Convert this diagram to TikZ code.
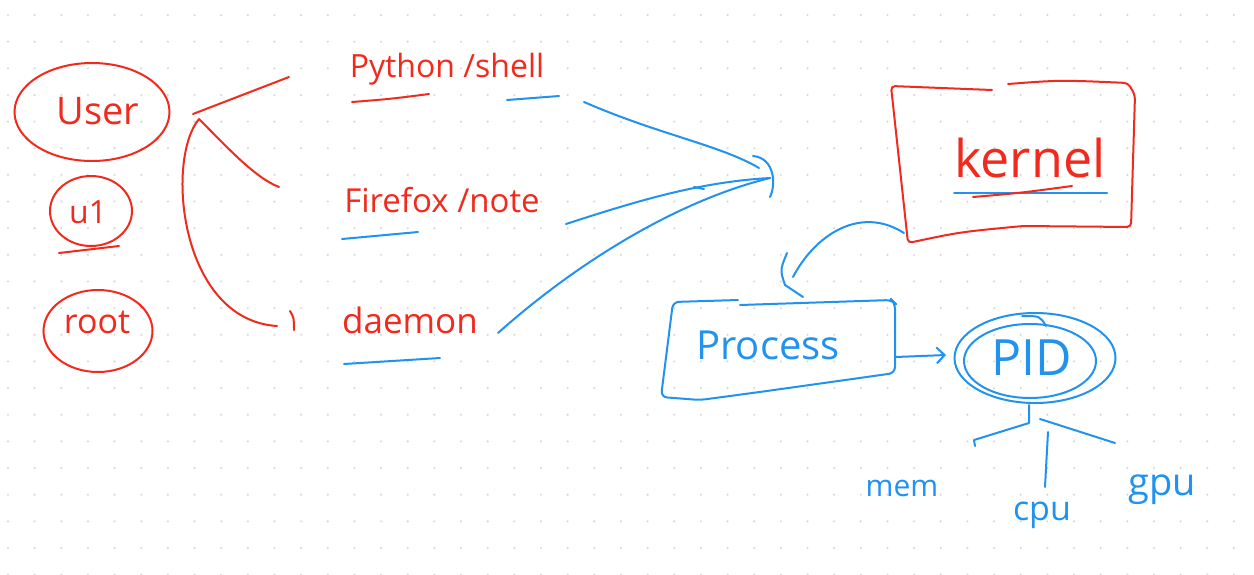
\documentclass[tikz,border=0pt]{standalone}
\usepackage{fontspec}
\setmainfont{Open Sans}
\usetikzlibrary{shapes.geometric,arrows.meta}
\definecolor{inkred}{RGB}{240,42,28}
\definecolor{inkblue}{RGB}{33,146,238}
\begin{document}
\begin{tikzpicture}[x=0.5pt,y=-0.5pt,
 rl/.style={draw=inkred,line width=1pt,line cap=round,line join=round},
 bl/.style={draw=inkblue,line width=1pt,line cap=round,line join=round},
 rt/.style={text=inkred,inner sep=0pt,font=\fontsize{#1}{#1}\selectfont},
 bt/.style={text=inkblue,inner sep=0pt,font=\fontsize{#1}{#1}\selectfont},
 ring/.style={ellipse,inner sep=0pt,line width=1pt,line cap=round}
]
\fill[white] (0,0) rectangle (1254,574);
\useasboundingbox (0,0) rectangle (1254,574);
\foreach \i in {0,...,46}{\foreach \j in {0,...,21}{\fill[gray!30] (8+26.65*\i,15+26.65*\j) circle[radius=0.6pt];}}

% left: user kinds
\node[ring,draw=inkred,minimum width=77.5pt,minimum height=49pt] (userring) at (92,112) {};
\node[rt=19] (user) at (98,111) {User};
\node[ring,draw=inkred,minimum width=41pt,minimum height=35pt] (uring) at (91,211) {};
\node[rt=16] (u1) at (88,212) {u1};
\node[ring,draw=inkred,minimum width=54.5pt,minimum height=41pt] (rootring) at (98,331) {};
\node[rt=17] (root) at (97,322) {root};
\coordinate (u1ul) at (59,253);
\coordinate (u1ur) at (119,246);
\draw[rl] (u1ul) -- (u1ur);

% programs
\node[rt=16] (py) at (447,69) {Python /shell};
\node[rt=16.5] (ff) at (442,200) {Firefox /note};
\node[rt=17.5] (dm) at (410,320) {daemon};
\coordinate (pyu1) at (352,102); \coordinate (pyu2) at (429,94);
\coordinate (shu1) at (507,100); \coordinate (shu2) at (559,96);
\coordinate (ffu1) at (342,239); \coordinate (ffu2) at (418,232);
\coordinate (dmu1) at (344,364); \coordinate (dmu2) at (440,358);
\draw[rl] (pyu1) .. controls (390,99) .. (pyu2);
\draw[bl] (shu1) -- (shu2);
\draw[bl] (ffu1) -- (ffu2);
\draw[bl] (dmu1) -- (dmu2);

% red connectors to users
\coordinate (ap) at (199,119);
\coordinate (ap0) at (193,114);
\coordinate (pyl) at (289,77);
\coordinate (ffl) at (279,187);
\coordinate (dml) at (277,326);
\coordinate (tk1) at (290,311);
\coordinate (tk2) at (294,330);
\draw[rl] (pyl) -- (ap0);
\draw[rl] (ap) .. controls (225,145) and (255,178) .. (ffl);
\draw[rl] (ap) .. controls (165,160) and (180,320) .. (dml);
\draw[rl] (tk1) .. controls (294,318) .. (tk2);

% blue connectors to the bracket
\coordinate (tip) at (770,178);
\coordinate (shr) at (584,102);
\coordinate (shend) at (759,168);
\coordinate (ffr) at (566,224);
\coordinate (dmr) at (498,333);
\coordinate (br1) at (753,156);
\coordinate (br2) at (770,197);
\draw[bl] (shr) .. controls (660,135) and (720,145) .. (shend);
\draw[bl] (ffr) .. controls (640,200) and (700,182) .. (tip);
\draw[bl] (ffr) ++(128,-37) -- ++(10,2);
\draw[bl] (dmr) .. controls (580,260) and (680,200) .. (tip);
\draw[bl] (br1) .. controls (775,158) and (776,185) .. (br2);

% kernel
\coordinate (k1) at (992,90);
\coordinate (k2) at (891,86);
\coordinate (k3) at (908,243);
\coordinate (k4) at (1131,227);
\coordinate (k5) at (1135,95);
\coordinate (k6) at (1128,83);
\coordinate (k7) at (1008,84);
\draw[rl,rounded corners=2pt] (k1) -- (k2) -- (k3) .. controls (960,232) .. (1023,226) -- (k4) -- (k5) -- (k6) .. controls (1060,80) .. (k7);
\node[rt=26] (kn) at (1030,158) {kernel};
\coordinate (kbu1) at (954,193); \coordinate (kbu2) at (1107,193);
\coordinate (kru1) at (973,197); \coordinate (kru2) at (1072,186);
\draw[bl] (kbu1) -- (kbu2);
\draw[rl] (kru1) .. controls (1020,193) .. (kru2);

% kernel -> process
\coordinate (kout) at (904,233);
\coordinate (pin) at (793,277);
\coordinate (pb1) at (787,253);
\coordinate (pb2) at (803,297);
\draw[bl] (kout) .. controls (860,205) and (815,235) .. (pin);
\draw[bl] (pb1) .. controls (780,270) .. (785,285) -- (pb2);

% process box
\coordinate (p1) at (738,300);
\coordinate (p2) at (673,302);
\coordinate (p3) at (661,397);
\coordinate (p4) at (895,373);
\coordinate (p5) at (895,303);
\coordinate (p6) at (740,305);
\draw[bl,rounded corners=3pt] (p1) -- (p2) -- (p3) -- (700,400) .. controls (760,392) .. (p4) -- (p5) -- (892,300) -- (p6);
\node[bt=20] (pr) at (768,345) {Process};

% process -> PID
\coordinate (prr) at (896,357);
\coordinate (pidl) at (946,355);
\draw[bl,-{Straight Barb[length=4pt,width=8pt]}] (prr) -- (pidl);

% PID
\node[ring,draw=inkblue,minimum width=80.5pt,minimum height=45pt] (pidouter) at (1035,358) {};
\node[ring,draw=inkblue,minimum width=66pt,minimum height=37pt] (pidinner) at (1030,361) {};
\node[bt=25] (pid) at (1032,358) {PID};
\coordinate (h1) at (1022,316); \coordinate (h2) at (1046,326);
\draw[bl] (h1) .. controls (1040,316) .. (h2);

% tree
\coordinate (t0) at (1029,405);
\coordinate (t1) at (1029,423);
\coordinate (t2) at (974,440);
\coordinate (t3) at (975,446);
\coordinate (t4) at (1040,419);
\coordinate (t5) at (1115,443);
\coordinate (t6) at (1048,432);
\coordinate (t7) at (1045,487);
\draw[bl] (t0) -- (t1) -- (t2) -- (t3);
\draw[bl] (t4) -- (t5);
\draw[bl] (t6) -- (t7);
\node[bt=15] (mem) at (902,488) {mem};
\node[bt=17] (cpu) at (1042,515) {cpu};
\node[bt=19] (gpu) at (1162,490) {gpu};
\end{tikzpicture}
\end{document}
